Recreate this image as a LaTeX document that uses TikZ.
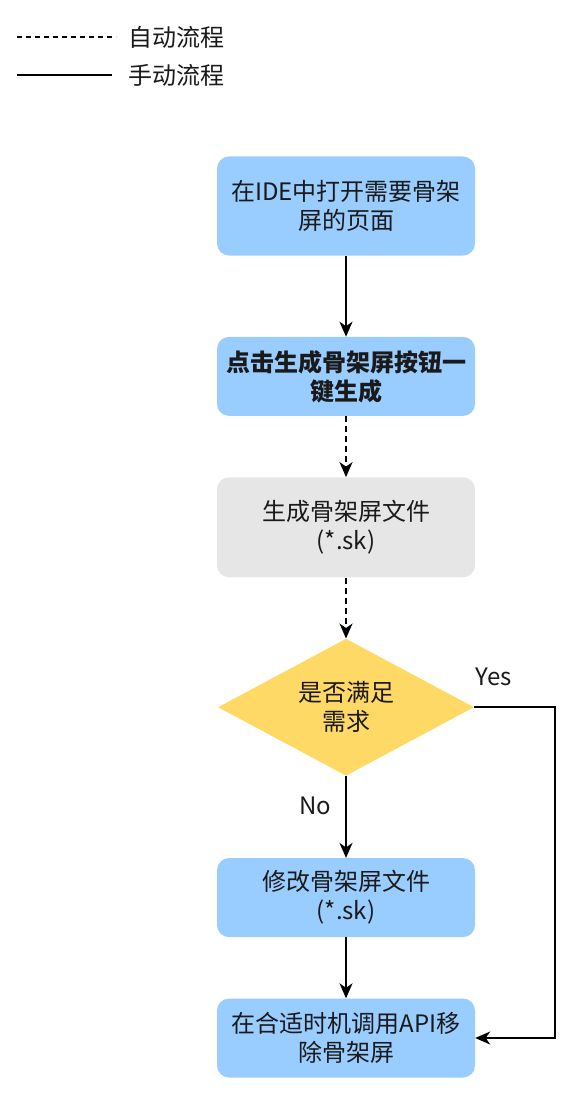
\documentclass[tikz,border=0pt]{standalone}
\usepackage{fontspec}
\setmainfont{Noto Sans CJK SC}
\usepackage{tikz}
\usetikzlibrary{positioning,arrows.meta,shapes.geometric}
\definecolor{cblue}{HTML}{99CCFF}
\definecolor{cgray}{HTML}{E6E6E6}
\definecolor{cyel}{HTML}{FFD966}
\definecolor{ctxt}{HTML}{1A1A1A}
\tikzset{
  box/.style={rectangle, rounded corners=12pt, fill=cblue, text=ctxt,
              minimum width=258pt, minimum height=79pt, align=center,
              font=\fontsize{24pt}{29pt}\selectfont},
  gen/.style={box, fill=cgray},
  cond/.style={diamond, fill=cyel, text=ctxt, shape aspect=1.87, inner sep=1pt,
               minimum width=256pt, minimum height=137pt, align=center,
               font=\fontsize{24pt}{29pt}\selectfont},
  lbl/.style={text=ctxt, font=\fontsize{24pt}{29pt}\selectfont},
  flow/.style={-{Stealth[length=15pt,width=13pt,inset=4.5pt]}, line width=1.6pt},
  autoflow/.style={flow, dash pattern=on 6pt off 4pt}
}
\begin{document}
\begin{tikzpicture}[x=1pt, y=-1pt, node distance=61pt]
\useasboundingbox (0,0) rectangle (588,1094);
% legend
\coordinate (la) at (17,37);
\coordinate (lm) at (17,75);
\node[lbl, anchor=west, inner xsep=12pt] (leg1) at (116,37) {自动流程};
\node[lbl, anchor=west, inner xsep=16pt] (leg2) at (112,75) {手动流程};
\draw[line width=1.5pt, dash pattern=on 5pt off 4pt] (la) -- (leg1.west);
\draw[line width=1.5pt] (lm) -- (leg2.west);
% steps
\node[box, minimum height=99pt] (open) at (346,206) {在IDE中打开需要骨架\\屏的页面};
\node[box, below=81pt of open] (gen) {\bfseries 点击生成骨架屏按钮一\\\bfseries 键生成};
\node[gen, minimum height=100pt, below=of gen] (sk) {生成骨架屏文件\\(*.sk)};
\node[cond, below=of sk] (chk) {是否满足\\需求};
\node[box, below=82pt of chk] (edit) {修改骨架屏文件\\(*.sk)};
\node[box, below=of edit] (rm) {在合适时机调用API移\\除骨架屏};
% connectors
\draw[flow] (open) -- (gen);
\draw[autoflow] (gen) -- (sk);
\draw[autoflow] (sk) -- (chk);
\draw[flow] (chk) -- (edit);
\draw[flow] (edit) -- (rm);
\draw[flow] (chk.east) -- ++(81,0) |- (rm.east);
\node[lbl] (yes) at (494,677) {Yes};
\node[lbl] (no) at (315,806) {No};
\end{tikzpicture}
\end{document}
